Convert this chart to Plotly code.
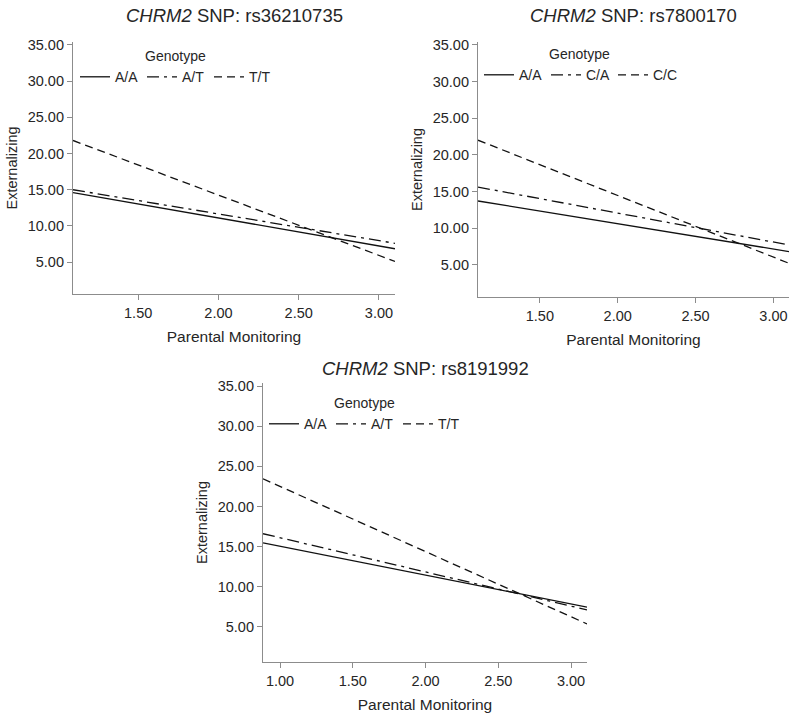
import plotly.graph_objects as go

# ---- data ----
titles = ["rs36210735", "rs7800170", "rs8191992"]
genotypes_1 = ["A/A", "A/T", "T/T"]
genotypes_2 = ["A/A", "C/A", "C/C"]
genotypes_3 = ["A/A", "A/T", "T/T"]

pm_1 = [1.094, 3.10]
pm_2 = [1.103, 3.10]
pm_3 = [0.883, 3.11]

ext_1_AA = [14.6, 6.85]
ext_1_AT = [15.0, 7.6]
ext_1_TT = [21.8, 5.1]

ext_2_AA = [13.7, 6.8]
ext_2_CA = [15.6, 7.7]
ext_2_CC = [22.0, 5.2]

ext_3_AA = [15.45, 7.45]
ext_3_AT = [16.6, 7.1]
ext_3_TT = [23.45, 5.35]

xticks_top = [1.5, 2.0, 2.5, 3.0]
xticks_bottom = [1.0, 1.5, 2.0, 2.5, 3.0]
yticks = [5, 10, 15, 20, 25, 30, 35]

dash_styles = ["solid", "12px,5px,3px,5px", "8px,5px"]

FONT = "Liberation Sans, Arial, sans-serif"
TXT = "#262626"
AX = "#8c8c8c"

W, H = 800, 717

def px(x0, x1):
    return [x0 / W, x1 / W]
def py(top, bottom):
    return [1 - bottom / H, 1 - top / H]

fig = go.Figure()

panels = [
    (pm_1, [ext_1_AA, ext_1_AT, ext_1_TT], genotypes_1, "x", "y", "legend"),
    (pm_2, [ext_2_AA, ext_2_CA, ext_2_CC], genotypes_2, "x2", "y2", "legend2"),
    (pm_3, [ext_3_AA, ext_3_AT, ext_3_TT], genotypes_3, "x3", "y3", "legend3"),
]

for xs, series, names, xa, ya, lg in panels:
    for vals, name, dash in zip(series, names, dash_styles):
        fig.add_trace(go.Scatter(
            x=xs, y=vals, mode="lines", name=name,
            line=dict(color="#111111", width=1.3, dash=dash),
            xaxis=xa, yaxis=ya, legend=lg, showlegend=True,
        ))

def xaxis(domain, anchor, ticks, rng):
    return dict(domain=domain, anchor=anchor, range=rng, automargin=False,
                tickvals=ticks, tickformat=".2f",
                showline=True, linecolor=AX, linewidth=1.2,
                ticks="outside", tickcolor=AX, ticklen=5,
                showgrid=False, zeroline=False,
                tickfont=dict(size=14.5, color=TXT, family=FONT),
                title=dict(text="Parental Monitoring", standoff=11,
                           font=dict(size=15.5, color=TXT, family=FONT)))

def yaxis(domain, anchor):
    return dict(domain=domain, anchor=anchor, range=[0.6, 35.4], automargin=False,
                tickvals=yticks, tickformat=".2f",
                showline=True, linecolor=AX, linewidth=1.2,
                ticks="outside", tickcolor=AX, ticklen=5,
                showgrid=False, zeroline=False,
                tickfont=dict(size=14.5, color=TXT, family=FONT),
                title=dict(text="Externalizing", standoff=6,
                           font=dict(size=14.5, color=TXT, family=FONT)))

fig.update_layout(
    xaxis=xaxis(px(73, 395), "y", xticks_top, [pm_1[0], pm_1[1]]),
    yaxis=yaxis(py(42, 294), "x"),
    xaxis2=xaxis(px(478, 789), "y2", xticks_top, [pm_2[0], pm_2[1]]),
    yaxis2=yaxis(py(42, 297), "x2"),
    xaxis3=xaxis(px(263, 587), "y3", xticks_bottom, [pm_3[0], pm_3[1]]),
    yaxis3=yaxis(py(383, 662), "x3"),
)

def legend(xpix, ypix):
    return dict(x=xpix / W, y=1 - ypix / H, xanchor="left", yanchor="top",
                orientation="h", bgcolor="rgba(0,0,0,0)",
                entrywidth=22, entrywidthmode="pixels",
                title=dict(text="Genotype", side="top center",
                           font=dict(size=14, color=TXT, family=FONT)),
                font=dict(size=14, color=TXT, family=FONT),
                tracegroupgap=0)

fig.update_layout(
    legend=legend(75, 43),
    legend2=legend(479, 41),
    legend3=legend(264, 390),
)

for (xc, yc), t in zip([((73 + 395) / 2, 16), ((478 + 789) / 2, 16), ((263 + 587) / 2, 368)], titles):
    fig.add_annotation(x=xc / W, y=1 - yc / H, xref="paper", yref="paper",
                       text="<i>CHRM2</i> SNP: " + t, showarrow=False,
                       xanchor="center", yanchor="middle",
                       font=dict(size=18.5, color=TXT, family=FONT))

fig.update_layout(width=W, height=H, margin=dict(l=0, r=0, t=0, b=0),
                  paper_bgcolor="white", plot_bgcolor="white",
                  font=dict(family=FONT, color=TXT))

fig.write_html(
    "out.html",
    config={"displayModeBar": False},
    post_script="document.body.style.margin='0';document.body.style.overflow='hidden';",
)
